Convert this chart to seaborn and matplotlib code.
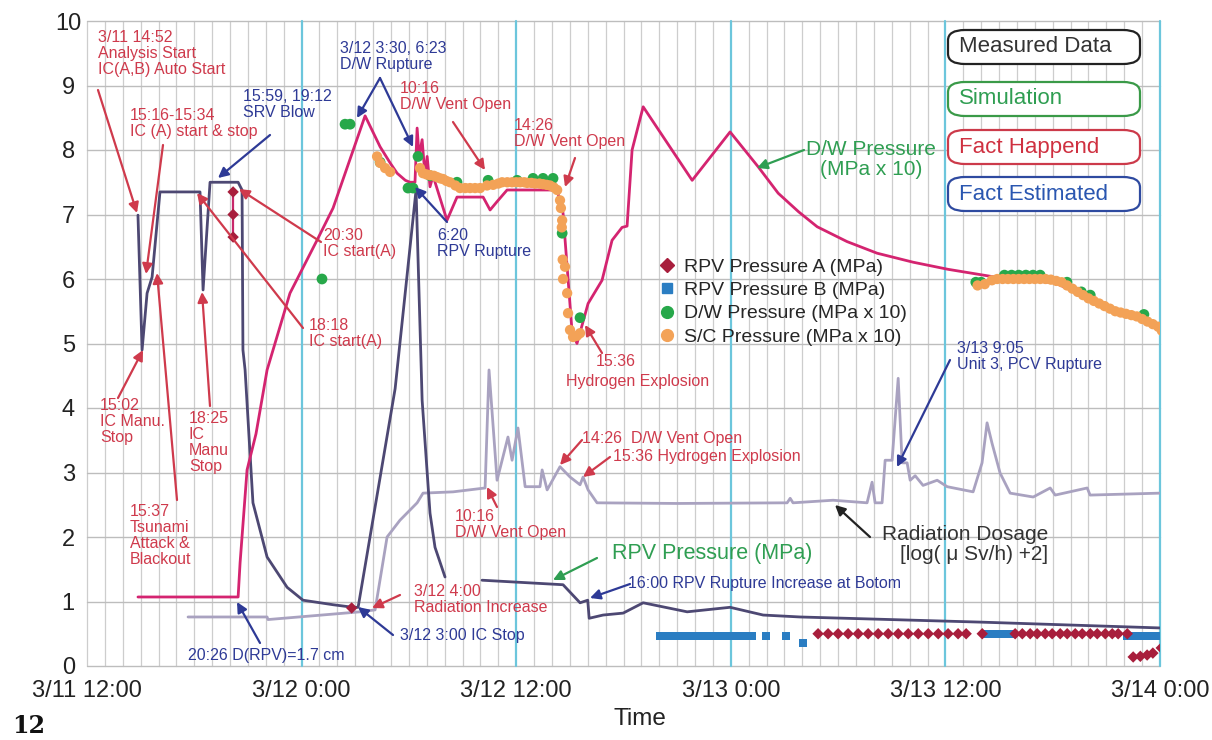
import numpy as np
import pandas as pd
import matplotlib
matplotlib.use("Agg")
import matplotlib.pyplot as plt
import seaborn as sns
from matplotlib.patches import FancyBboxPatch
from matplotlib.lines import Line2D

sns.set_theme(style="white")
plt.rcParams['font.family'] = ['Liberation Sans', 'DejaVu Sans']

# ---------------- data (x = hours after 3/11 12:00) ----------------
dw_sim_h = [2.85, 8.45, 8.56, 8.95, 9.45, 10.07, 11.35, 12.86, 13.76, 15.55, 16.39, 16.95, 17.34, 17.8,
            18.06, 18.34, 18.46, 18.57, 18.74, 18.9, 19.02, 19.18, 19.35, 20.13, 20.69, 22.15, 22.54,
            22.93, 23.49, 26.29, 26.62, 27.13, 27.4, 28.02, 28.8, 29.36, 29.92, 30.2, 30.48, 31.1,
            33.84, 35.96, 37.53, 38.65, 39.8, 40.83, 42.5, 44.18, 46.2, 48.15, 50.78, 54.14, 57.44, 60.0]
dw_sim_v = [1.07, 1.07, 1.6, 3.04, 3.6, 4.59, 5.78, 6.6, 7.1, 8.53, 8.05, 7.8, 7.64, 7.53,
            7.5, 7.5, 8.34, 7.9, 8.16, 7.6, 7.9, 7.43, 7.6, 6.91, 7.27, 7.27, 7.07,
            7.2, 7.38, 7.38, 7.02, 5.16, 5.0, 5.62, 5.98, 6.6, 6.8, 6.82, 8.0, 8.67,
            7.53, 8.28, 7.74, 7.33, 7.04, 6.81, 6.58, 6.4, 6.26, 6.15, 6.03, 5.94, 5.52, 5.29]

rpv_meas_h = [2.85, 3.08, 3.36, 3.64, 4.08, 6.32, 6.49, 6.88, 8.45, 8.67, 8.72, 8.84, 9.28, 10.07,
              11.19, 12.08, 13.76, 14.88, 15.16, 17.23, 18.4, 18.74, 19.18, 19.46, 20.02]
rpv_meas_v = [6.99, 4.9, 5.78, 6.03, 7.35, 7.35, 5.83, 7.5, 7.5, 7.38, 4.9, 4.59, 2.53, 1.69,
              1.22, 1.02, 0.95, 0.91, 0.91, 4.3, 7.38, 4.12, 2.37, 1.84, 1.38]

rpv_late_h = [22.09, 26.62, 27.57, 28.0, 28.08, 28.86, 29.98, 31.1, 33.56, 35.96, 37.81, 39.88, 50.0, 60.0]
rpv_late_v = [1.33, 1.26, 0.98, 1.02, 0.74, 0.79, 0.82, 0.98, 0.84, 0.91, 0.79, 0.76, 0.68, 0.59]

rad_h = [5.65, 10.07, 10.12, 15.27, 16.11, 16.78, 17.5, 18.46, 18.79, 20.47, 22.26, 22.48, 22.93,
         23.54, 23.77, 24.1, 24.5, 25.33, 25.45, 25.73, 26.45, 27.01, 27.57, 27.74, 28.02, 28.52,
         33.0, 39.15, 39.32, 39.48, 41.72, 43.62, 43.9, 44.07, 44.46, 44.63, 45.02, 45.36, 45.58,
         45.86, 46.03, 46.31, 46.75, 47.54, 48.1, 49.55, 50.05, 50.33, 50.61, 51.06, 51.62, 52.91,
         53.86, 54.14, 55.93, 56.09, 60.0]
rad_v = [0.76, 0.76, 0.72, 0.84, 0.87, 2.0, 2.26, 2.53, 2.68, 2.7, 2.76, 4.59, 2.88,
         3.55, 3.19, 3.69, 2.78, 2.78, 3.04, 2.73, 3.09, 2.93, 2.81, 2.93, 2.73, 2.53,
         2.52, 2.53, 2.6, 2.53, 2.57, 2.53, 2.85, 2.53, 2.53, 3.19, 3.19, 4.46, 3.15,
         3.15, 2.88, 2.95, 2.8, 2.88, 2.78, 2.7, 3.15, 3.77, 3.45, 2.99, 2.68, 2.62,
         2.76, 2.65, 2.76, 2.65, 2.68]

rpvA_h = [8.17, 8.17, 8.17, 14.8,
          40.88, 41.44, 42.0, 42.56, 43.12, 43.68, 44.24, 44.8, 45.36, 45.92, 46.48, 47.04, 47.6,
          48.15, 48.71, 49.16,
          50.06, 51.9, 52.3, 52.74, 53.13, 53.58, 53.97, 54.42, 54.81, 55.26, 55.65, 56.1, 56.49,
          56.94, 57.33, 57.66, 58.17,
          58.5, 58.9, 59.28, 59.6, 60.07]
rpvA_v = [7.35, 7.0, 6.65, 0.9,
          0.5, 0.5, 0.5, 0.5, 0.5, 0.5, 0.5, 0.5, 0.5, 0.5, 0.5, 0.5, 0.5,
          0.5, 0.5, 0.5,
          0.5, 0.5, 0.5, 0.5, 0.5, 0.5, 0.5, 0.5, 0.5, 0.5, 0.5, 0.5, 0.5,
          0.5, 0.5, 0.5, 0.5,
          0.14, 0.15, 0.17, 0.2, 0.28]

rpvB_h = [32.05, 32.38, 32.72, 33.05, 33.39, 33.72, 34.06, 34.4, 34.84, 35.18, 35.51, 35.85, 36.19,
          36.52, 36.86, 37.19, 37.98, 39.09, 40.04,
          50.34, 50.67, 51.0, 51.34, 51.68,
          58.17, 58.5, 58.84, 59.17, 59.51, 59.84, 60.12]
rpvB_v = [0.47, 0.47, 0.47, 0.47, 0.47, 0.47, 0.47, 0.47, 0.47, 0.47, 0.47, 0.47, 0.47,
          0.47, 0.47, 0.47, 0.47, 0.47, 0.36,
          0.49, 0.49, 0.49, 0.49, 0.49,
          0.47, 0.47, 0.47, 0.47, 0.47, 0.47, 0.47]

dw_meas_h = [13.14, 14.43, 14.71, 16.39, 17.95, 18.23, 18.51, 19.2, 20.69, 22.43, 24.05, 24.94, 25.5,
             26.06, 26.57, 27.57,
             49.7, 50.0, 51.3, 51.7, 52.1, 52.5, 52.9, 53.3, 54.8, 55.6, 56.1, 59.1]
dw_meas_v = [6.0, 8.4, 8.4, 7.81, 7.41, 7.41, 7.9, 7.6, 7.5, 7.53, 7.53, 7.56, 7.56,
             7.56, 6.71, 5.4,
             5.95, 5.95, 6.06, 6.06, 6.06, 6.06, 6.06, 6.06, 5.95, 5.8, 5.75, 5.45]

sc_h = [16.22, 16.39, 16.67, 16.95, 18.62, 18.79, 19.0, 19.18, 19.4, 19.57, 19.75, 19.91, 20.1, 20.3,
        20.6, 20.86, 21.15, 21.42, 21.7, 21.98, 22.37, 22.71, 23.0, 23.21, 23.5, 23.77, 24.0, 24.22,
        24.45, 24.61, 24.85, 25.06, 25.3, 25.5, 25.7, 25.89, 26.1, 26.29, 26.45, 26.5, 26.55, 26.57,
        26.6, 26.62, 26.73, 26.85, 26.9, 27.01, 27.18, 27.4, 27.57,
        49.8, 50.2, 50.6, 50.9, 51.2, 51.5, 51.8, 52.1, 52.4, 52.7, 53.0, 53.3, 53.6, 53.9, 54.2,
        54.5, 54.8, 55.1, 55.4, 55.7, 56.0, 56.3, 56.6, 56.9, 57.2, 57.5, 57.8, 58.1, 58.4, 58.7,
        59.0, 59.3, 59.6, 59.9, 60.1]
sc_v = [7.9, 7.8, 7.72, 7.66, 7.72, 7.64, 7.62, 7.61, 7.6, 7.58, 7.56, 7.55, 7.52, 7.5,
        7.45, 7.41, 7.41, 7.41, 7.41, 7.41, 7.45, 7.46, 7.48, 7.5, 7.5, 7.5, 7.5, 7.5,
        7.5, 7.49, 7.49, 7.48, 7.48, 7.47, 7.46, 7.45, 7.42, 7.38, 7.22, 7.1, 6.8, 6.91,
        6.3, 6.0, 6.19, 5.78, 5.47, 5.21, 5.1, 5.12, 5.16,
        5.9, 5.92, 5.98, 6.0, 6.0, 6.0, 6.0, 6.0, 6.0, 6.0, 6.0, 6.0, 6.0, 5.99, 5.97,
        5.95, 5.9, 5.85, 5.8, 5.75, 5.7, 5.66, 5.62, 5.58, 5.54, 5.5, 5.48, 5.46, 5.44, 5.42,
        5.38, 5.34, 5.3, 5.26, 5.2]

xtick_pos = [0, 12, 24, 36, 48, 60]
xtick_lab = ['3/11 12:00', '3/12 0:00', '3/12 12:00', '3/13 0:00', '3/13 12:00', '3/14 0:00']
legend_labels = ['RPV Pressure A (MPa)', 'RPV Pressure B (MPa)', 'D/W Pressure (MPa x 10)',
                 'S/C Pressure (MPa x 10)']
box_labels = ['Measured Data', 'Simulation', 'Fact Happend', 'Fact Estimated']

# ---------------- colours ----------------
MAG = '#d42470'
DARK = '#4d4873'
RAD = '#a9a2c0'
RED = '#cf3a4c'
BLUE = '#2e3a96'
GREEN = '#2f9e52'
DIAM = '#a81e3c'
SQ = '#2a7dc2'
GRN = '#27a84a'
ORG = '#f3a257'
CYAN = '#6cc6dc'

W, H = 1212, 740
fig = plt.figure(figsize=(W / 100, H / 100), dpi=100)
X0, X1, Y0, Y1 = 87, 1160, 21, 666
ax = fig.add_axes([X0 / W, (H - Y1) / H, (X1 - X0) / W, (Y1 - Y0) / H])
ax.set_xlim(0, 60)
ax.set_ylim(0, 10)
for s in ax.spines.values():
    s.set_visible(False)


def P(px, py):
    """pixel position in the picture -> data coordinates (layout helper for annotations)"""
    return ((px - X0) / (X1 - X0) * 60.0, (Y1 - py) / (Y1 - Y0) * 10.0)


# grid
for h in range(61):
    if h % 12 == 0 and h > 0:
        ax.axvline(h, color=CYAN, lw=1.6, zorder=0.5, clip_on=False)
    else:
        ax.axvline(h, color='#cdcdcd', lw=0.9, zorder=0.3, clip_on=False)
for v in range(11):
    ax.axhline(v, color='#bdbdbd', lw=1.0, zorder=0.4, clip_on=False)

# lines
sns.lineplot(x=rad_h, y=rad_v, ax=ax, color=RAD, lw=2.0, estimator=None, sort=False, zorder=2)
sns.lineplot(x=rpv_meas_h, y=rpv_meas_v, ax=ax, color=DARK, lw=2.0, estimator=None, sort=False, zorder=3)
sns.lineplot(x=rpv_late_h, y=rpv_late_v, ax=ax, color=DARK, lw=2.0, estimator=None, sort=False, zorder=3)
sns.lineplot(x=dw_sim_h, y=dw_sim_v, ax=ax, color=MAG, lw=2.0, estimator=None, sort=False, zorder=3)
sns.lineplot(x=rpvA_h[:3], y=rpvA_v[:3], ax=ax, color='#c8286a', lw=1.6, estimator=None, sort=False, zorder=3)

# measured points
sns.scatterplot(x=rpvB_h, y=rpvB_v, ax=ax, marker='s', s=34, color=SQ, edgecolor='none', zorder=4)
sns.scatterplot(x=rpvA_h, y=rpvA_v, ax=ax, marker='D', s=34, color=DIAM, edgecolor='none', zorder=5)
sns.scatterplot(x=dw_meas_h, y=dw_meas_v, ax=ax, marker='o', s=60, color=GRN, edgecolor='none', zorder=4)
sns.scatterplot(x=sc_h, y=sc_v, ax=ax, marker='o', s=55, color=ORG, edgecolor='none', zorder=5)

# ticks
ax.set_xticks(xtick_pos)
ax.set_xticklabels(xtick_lab, fontsize=17, color='#222222')
ax.set_yticks(range(11))
ax.set_yticklabels([str(v) for v in range(11)], fontsize=17, color='#222222')
for t in ax.get_yticklabels():
    t.set_ha('center')
ax.tick_params(axis='x', length=0, pad=10)
ax.tick_params(axis='y', length=0, pad=13.5)
ax.set_xlabel('')
ax.set_ylabel('')
fig.text(640 / W, 1 - 719 / H, 'Time', fontsize=17.5, ha='center', va='center', color='#222222')
fig.text(12 / W, 1 - 726 / H, '12', fontsize=17, ha='left', va='center', fontweight='bold',
         family='DejaVu Serif', color='#111111')

# legend
handles = [Line2D([], [], ls='none', marker='D', ms=7, color=DIAM),
           Line2D([], [], ls='none', marker='s', ms=7, color=SQ),
           Line2D([], [], ls='none', marker='o', ms=8.5, color=GRN),
           Line2D([], [], ls='none', marker='o', ms=8.5, color=ORG)]
ax.legend(handles, legend_labels, loc='upper left', bbox_to_anchor=((657 - X0) / (X1 - X0), (Y1 - 258) / (Y1 - Y0)),
          frameon=False, fontsize=14, handlelength=1.0, handletextpad=0.4, labelspacing=0.3,
          borderpad=0, borderaxespad=0)

# category boxes
box_cols = [('#222222', '#333333'), ('#3a9a48', '#2f9e52'), ('#cc3a4a', '#cf3040'), ('#2e4aa0', '#2a56b0')]
box_cy = [47, 99, 147, 194]
for lab, (ec, tc), cy in zip(box_labels, box_cols, box_cy):
    bx0, bx1, bh = 948, 1140, 34
    fb = FancyBboxPatch((bx0 / W, 1 - (cy + bh / 2) / H), (bx1 - bx0) / W, bh / H,
                        boxstyle='round,pad=0,rounding_size=0.014', transform=fig.transFigure,
                        fc='white', ec=ec, lw=1.6, zorder=10)
    fig.patches.append(fb)
    fig.text(959 / W, 1 - cy / H, lab, fontsize=16, color=tc, ha='left', va='center', zorder=11)

# annotations
TFS = 11.5


def label(px, py, txt, color, fs=TFS, ha='left'):
    x, y = P(px, py)
    ax.text(x, y, txt, color=color, fontsize=fs, ha=ha, va='top', linespacing=1.08, zorder=8)


def arrow(tail, tip, color, lw=1.6):
    ax.annotate('', xy=P(*tip), xytext=P(*tail),
                arrowprops=dict(arrowstyle='-|>', color=color, lw=lw, mutation_scale=15,
                                shrinkA=0, shrinkB=0), zorder=8)


# red: facts happened
label(98, 30, '3/11 14:52\nAnalysis Start\nIC(A,B) Auto Start', RED)
arrow((98, 90), (137, 213), RED)
label(130, 108, '15:16-15:34\nIC (A) start & stop', RED)
arrow((163, 145), (146, 274), RED)
label(100, 398, '15:02\nIC Manu.\nStop', RED)
arrow((118, 398), (143, 350), RED)
label(130, 504, '15:37\nTsunami\nAttack &\nBlackout', RED)
arrow((177, 500), (157, 273), RED)
label(189, 411, '18:25\nIC\nManu\nStop', RED)
arrow((210, 406), (202, 292), RED)
label(309, 318, '18:18\nIC start(A)', RED)
arrow((303, 328), (197, 193), RED)
label(323, 228, '20:30\nIC start(A)', RED)
arrow((321, 242), (239, 189), RED)
label(400, 81, '10:16\nD/W Vent Open', RED)
arrow((453, 122), (485, 170), RED)
label(514, 118, '14:26\nD/W Vent Open', RED)
arrow((575, 158), (565, 187), RED)
label(596, 354, '15:36', RED)
label(566, 374, 'Hydrogen Explosion', RED)
arrow((602, 353), (585, 325), RED)
label(582, 431, '14:26  D/W Vent Open', RED)
arrow((582, 440), (560, 465), RED)
label(613, 449, '15:36 Hydrogen Explosion', RED)
arrow((610, 457), (583, 477), RED)
label(455, 509, '10:16\nD/W Vent Open', RED)
arrow((497, 507), (487, 487), RED)
label(414, 584, '3/12 4:00\nRadiation Increase', RED)
arrow((400, 595), (372, 608), RED)

# blue: facts estimated
label(243, 89, '15:59, 19:12\nSRV Blow', BLUE)
arrow((270, 135), (218, 178), BLUE)
label(340, 41, '3/12 3:30, 6:23\nD/W Rupture', BLUE)
arrow((380, 78), (357, 118), BLUE)
arrow((380, 78), (413, 147), BLUE)
label(437, 228, '6:20\nRPV Rupture', BLUE)
arrow((447, 222), (415, 187), BLUE)
label(188, 648, '20:26 D(RPV)=1.7 cm', BLUE)
arrow((260, 643), (237, 602), BLUE)
label(400, 628, '3/12 3:00 IC Stop', BLUE)
arrow((393, 635), (358, 607), BLUE)
label(628, 576, '16:00 RPV Rupture Increase at Botom', BLUE)
arrow((630, 584), (590, 598), BLUE)
label(957, 341, '3/13 9:05\nUnit 3, PCV Rupture', BLUE)
arrow((950, 360), (897, 467), BLUE)

# green: simulation
label(612, 543, 'RPV Pressure (MPa)', GREEN, fs=15.5)
arrow((597, 558), (553, 580), GREEN)
label(871, 140, 'D/W Pressure\n(MPa x 10)', GREEN, fs=15, ha='center')
arrow((804, 150), (757, 168), GREEN)

# black: radiation
label(1048, 525, 'Radiation Dosage\n[log( μ Sv/h) +2]', '#333333', fs=15, ha='right')
arrow((870, 537), (835, 505), '#222222')

fig.savefig('out.png', dpi=100, facecolor='white')
